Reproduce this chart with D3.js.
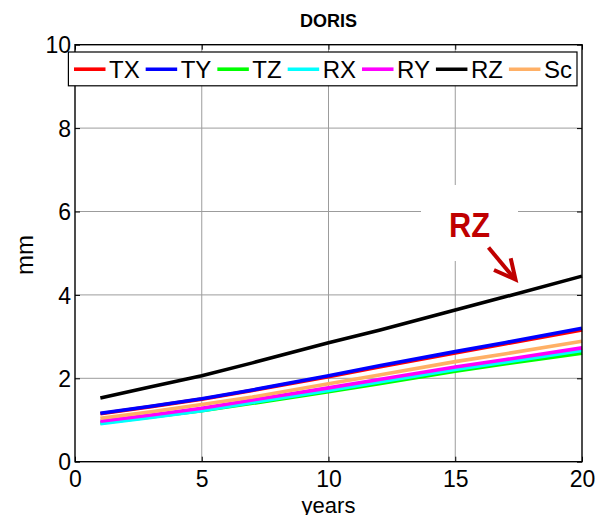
<!DOCTYPE html>
<html><head><meta charset="utf-8">
<script src="https://cdn.jsdelivr.net/npm/d3@7"></script>
<style>
html,body{margin:0;padding:0;background:#fff;}
svg{display:block;font-family:"Liberation Sans",Arial,sans-serif;}
</style></head>
<body>
<svg id="chart" width="597" height="515"></svg>
<script>
// ---- data ----
const years = [1, 3, 5, 7, 10, 12, 15, 17, 20];
const seriesNames = ["TX", "TY", "TZ", "RX", "RY", "RZ", "Sc"];
const seriesColors = ["#ff0000", "#0000ff", "#00ff00", "#00ffff", "#ff00ff", "#000000", "#ffb066"];
const TX = [1.15, 1.32, 1.50, 1.71, 2.04, 2.27, 2.61, 2.83, 3.16];
const TY = [1.16, 1.33, 1.51, 1.72, 2.06, 2.30, 2.64, 2.86, 3.20];
const TZ = [0.93, 1.07, 1.22, 1.40, 1.68, 1.87, 2.17, 2.35, 2.60];
const RX = [0.91, 1.06, 1.22, 1.42, 1.71, 1.91, 2.21, 2.39, 2.67];
const RY = [0.97, 1.12, 1.28, 1.48, 1.77, 1.97, 2.27, 2.45, 2.73];
const RZ = [1.53, 1.80, 2.06, 2.37, 2.85, 3.15, 3.64, 3.96, 4.45];
const Sc = [1.04, 1.20, 1.37, 1.55, 1.87, 2.08, 2.40, 2.59, 2.89];
const seriesValues = [TX, TY, TZ, RX, RY, RZ, Sc];
const xTicks = [0, 5, 10, 15, 20];
const yTicks = [0, 2, 4, 6, 8, 10];
const titleText = "DORIS";
const xLabel = "years";
const yLabel = "mm";
const annotationText = "RZ";

// ---- layout ----
const svg = d3.select("#chart");
const L = 75, R = 582, T = 44.7, B = 461.7;
const x = d3.scaleLinear().domain([0, 20]).range([L, R]);
const y = d3.scaleLinear().domain([0, 10]).range([B, T]);
const grid = "#9c9c9c";

// grid
svg.append("g").selectAll("line").data(xTicks.filter(d => d > 0 && d < 20)).join("line")
  .attr("x1", d => x(d)).attr("x2", d => x(d)).attr("y1", T).attr("y2", B)
  .attr("stroke", grid).attr("stroke-width", 1);
svg.append("g").selectAll("line").data(yTicks.filter(d => d > 0 && d < 10)).join("line")
  .attr("y1", d => y(d)).attr("y2", d => y(d)).attr("x1", L).attr("x2", R)
  .attr("stroke", grid).attr("stroke-width", 1);

// axes via d3 axis
const fs = 23;
const xAxis = svg.append("g").attr("transform", `translate(0,${B})`)
  .call(d3.axisBottom(x).tickValues(xTicks).tickSize(-5).tickPadding(13).tickFormat(d3.format("d")));
const yAxis = svg.append("g").attr("transform", `translate(${L},0)`)
  .call(d3.axisLeft(y).tickValues(yTicks).tickSize(-5).tickPadding(8).tickFormat(d3.format("d")));
const xTop = svg.append("g").attr("transform", `translate(0,${T})`)
  .call(d3.axisTop(x).tickValues(xTicks).tickSize(-5).tickFormat(""));
const yRight = svg.append("g").attr("transform", `translate(${R},0)`)
  .call(d3.axisRight(y).tickValues(yTicks).tickSize(-5).tickFormat(""));
[xAxis, yAxis, xTop, yRight].forEach(g => {
  g.select(".domain").remove();
  g.selectAll("line").attr("stroke", "#000").attr("stroke-width", 1);
  g.selectAll("text").attr("fill", "#000").attr("font-size", fs)
    .attr("font-family", "'Liberation Sans', Arial, sans-serif");
});
xAxis.selectAll("text").attr("dy", null).attr("y", 25.5);
yAxis.selectAll("text").attr("dy", "0.36em").attr("x", -4);

// annotation white box (behind lines)
svg.append("rect").attr("x", 421).attr("y", 185).attr("width", 97).attr("height", 76).attr("fill", "#fff");

// series lines
const line = d3.line().x((d, i) => x(years[i])).y(d => y(d));
svg.append("g").selectAll("path").data(seriesValues).join("path")
  .attr("d", d => line(d)).attr("fill", "none")
  .attr("stroke", (d, i) => seriesColors[i]).attr("stroke-width", 3.6)
  .attr("stroke-linejoin", "round");

// box
svg.append("rect").attr("x", L).attr("y", T).attr("width", R - L).attr("height", B - T)
  .attr("fill", "none").attr("stroke", "#000").attr("stroke-width", 1.4);

// annotation
svg.append("text").attr("x", 449).attr("y", 237.3).text(annotationText)
  .attr("font-weight", "bold").attr("font-size", 35).attr("fill", "#c00000")
  .attr("textLength", 41).attr("lengthAdjust", "spacingAndGlyphs")
  .attr("font-family", "'Liberation Sans', Arial, sans-serif");
const ar = "#c00000";
svg.append("line").attr("x1", 488.5).attr("y1", 247.5).attr("x2", 513).attr("y2", 277)
  .attr("stroke", ar).attr("stroke-width", 4);
svg.append("polyline").attr("points", "494,270 515.5,279.5 510.7,258.3")
  .attr("fill", "none").attr("stroke", ar).attr("stroke-width", 4).attr("stroke-linejoin", "miter");

// legend
const lg = svg.append("g");
lg.append("rect").attr("x", 68.4).attr("y", 52).attr("width", 577 - 68.4).attr("height", 33.8)
  .attr("fill", "#fff").attr("stroke", "#000").attr("stroke-width", 1.2);
let cx = 74;
seriesNames.forEach((n, i) => {
  lg.append("line").attr("x1", cx).attr("x2", cx + 31.5).attr("y1", 69.2).attr("y2", 69.2)
    .attr("stroke", seriesColors[i]).attr("stroke-width", 3.6);
  const t = lg.append("text").attr("x", cx + 35).attr("y", 77.5).text(n)
    .attr("font-size", 24).attr("fill", "#000");
  cx = cx + 35 + t.node().getComputedTextLength() + 6;
});

// titles
svg.append("text").attr("x", (L + R) / 2).attr("y", 27).attr("text-anchor", "middle")
  .attr("font-weight", "bold").attr("font-size", 18).text(titleText);
svg.append("text").attr("x", (L + R) / 2).attr("y", 512.5).attr("text-anchor", "middle")
  .attr("font-size", 22).text(xLabel);
svg.append("text").attr("transform", "translate(33,255) rotate(-90)").attr("text-anchor", "middle")
  .attr("font-size", 24).text(yLabel);
</script>
</body></html>
